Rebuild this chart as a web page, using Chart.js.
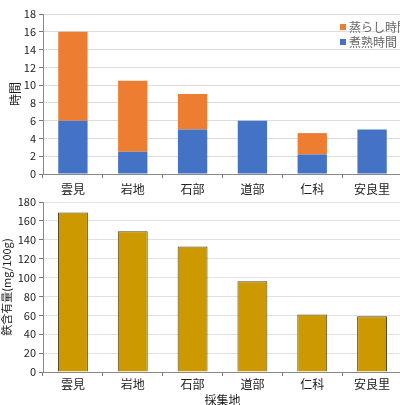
<!DOCTYPE html>
<html>
<head>
<meta charset="utf-8">
<script src="https://cdn.jsdelivr.net/npm/chart.js@4"></script>
<style>
  html, body { margin: 0; padding: 0; background: #fff; overflow: hidden; width: 400px; height: 405px; }
  #wrap { position: relative; width: 402px; height: 405px; overflow: hidden; }
  #top { position: absolute; left: 0; top: 0; width: 402px; height: 195px; }
  #bottom { position: absolute; left: 0; top: 190px; width: 402px; height: 218px; }
</style>
</head>
<body>
<div id="wrap">
  <div id="top"><canvas id="js--jikanChart"></canvas></div>
  <div id="bottom"><canvas id="js--tetsuChart"></canvas></div>
</div>
<script>
// data
const basho = ["雲見", "岩地", "石部", "道部", "仁科", "安良里"];
const shajukuJikan = [6, 2.5, 5, 6, 2.2, 5];     // 煮熟時間
const murashiJikan = [10, 8, 4, 0, 2.4, 0];      // 蒸らし時間
const tetsuGanyuryo = [169, 149, 133, 96, 61, 59];
const jikanTicks = [0, 2, 4, 6, 8, 10, 12, 14, 16, 18];
const tetsuTicks = [0, 20, 40, 60, 80, 100, 120, 140, 160, 180];

const fontJP = "'Noto Sans CJK JP', 'Noto Sans', sans-serif";
Chart.defaults.font.family = fontJP;
Chart.defaults.color = "#222";

//legend in de grafiek (rechtsboven)
const legendInside = {
    id: "legendInside",
    afterDraw(chart) {
        const ctx = chart.ctx;
        const sets = chart.data.datasets.slice().reverse();
        const x = chart.chartArea.right - 62;
        ctx.save();
        ctx.font = "12px " + fontJP;
        ctx.textBaseline = "middle";
        sets.forEach(function(ds, i) {
            const y = 27 + i * 15;
            ctx.fillStyle = ds.backgroundColor;
            ctx.fillRect(x, y - 3, 6, 6);
            ctx.fillStyle = "#666";
            ctx.fillText(ds.label, x + 9, y);
        });
        ctx.restore();
    }
};

const jikanChart = document.getElementById("js--jikanChart");
const tetsuChart = document.getElementById("js--tetsuChart");

new Chart(jikanChart, {
    type: "bar",
    data: {
        labels: basho,
        datasets: [{
            label: "煮熟時間",
            data: shajukuJikan,
            backgroundColor: "#4472C4",
            categoryPercentage: 1,
            barPercentage: 0.49
        }, {
            label: "蒸らし時間",
            data: murashiJikan,
            backgroundColor: "#ED7D31",
            categoryPercentage: 1,
            barPercentage: 0.49
        }]
    },
    options: {
        animation: false,
        responsive: true,
        maintainAspectRatio: false,
        layout: { padding: { top: 14, left: 0, right: 0, bottom: 0 } },
        plugins: {
            legend: { display: false },
            tooltip: { enabled: false }
        },
        scales: {
            x: {
                stacked: true,
                afterFit(scale) { scale.height = 21; },
                grid: { offset: true, drawOnChartArea: false, tickLength: 4, tickColor: "#777" },
                border: { color: "#888" },
                ticks: { padding: 4, font: { size: 12 }, color: "#222" }
            },
            y: {
                stacked: true,
                min: 0,
                max: 18,
                afterFit(scale) { scale.width = 43; },
                afterBuildTicks(scale) { scale.ticks = jikanTicks.map(v => ({ value: v })); },
                grid: { color: "#dcdcdc", tickLength: 4, tickColor: "#777" },
                border: { color: "#888" },
                ticks: { padding: 3, font: { size: 11 }, color: "#222" },
                title: { display: true, text: "時間", font: { size: 12 }, padding: { top: 8, bottom: 0 }, color: "#222" }
            }
        }
    },
    plugins: [legendInside]
});

new Chart(tetsuChart, {
    type: "bar",
    data: {
        labels: basho,
        datasets: [{
            label: "鉄含有量",
            data: tetsuGanyuryo,
            backgroundColor: "#CC9900",
            borderColor: "#4f4220",
            borderWidth: 1,
            categoryPercentage: 1,
            barPercentage: 0.5
        }]
    },
    options: {
        animation: false,
        responsive: true,
        maintainAspectRatio: false,
        layout: { padding: { top: 12, left: 0, right: 0, bottom: 0 } },
        plugins: {
            legend: { display: false },
            tooltip: { enabled: false }
        },
        scales: {
            x: {
                afterFit(scale) { scale.height = 36; },
                grid: { offset: true, drawOnChartArea: false, tickLength: 4, tickColor: "#777" },
                border: { color: "#888" },
                ticks: { padding: 1, font: { size: 12 }, color: "#222" },
                title: { display: true, text: "採集地", font: { size: 12 }, padding: { top: 0, bottom: 0 }, color: "#222" }
            },
            y: {
                min: 0,
                max: 180,
                afterFit(scale) { scale.width = 43; },
                afterBuildTicks(scale) { scale.ticks = tetsuTicks.map(v => ({ value: v })); },
                grid: { color: "#e2e2e2", tickLength: 4, tickColor: "#777" },
                border: { color: "#888" },
                ticks: { padding: 3, font: { size: 11 }, color: "#222" },
                title: { display: true, text: "鉄含有量(mg/100g)", font: { size: 11 }, padding: { top: 0, bottom: 0 }, color: "#222" }
            }
        }
    }
});
</script>
</body>
</html>
